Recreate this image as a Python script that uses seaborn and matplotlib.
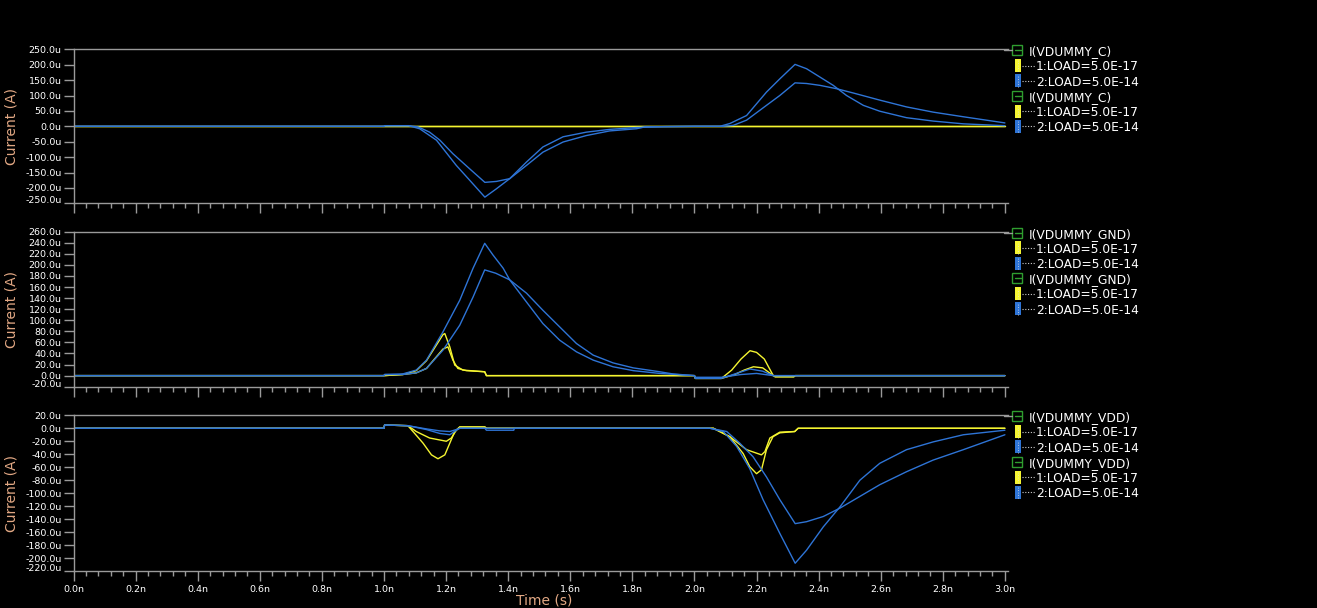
import numpy as np
import matplotlib.pyplot as plt
import seaborn as sns
from matplotlib.patches import Rectangle
from matplotlib.lines import Line2D
from matplotlib.ticker import MultipleLocator, FuncFormatter

sns.set_theme(style="ticks")
plt.rcParams['font.family'] = ['DejaVu Sans']

# ---- data (time in ns, current in uA) ----
# panel 1: I(VDUMMY_C)
c_y1_t = [0.0, 3.0]
c_y1_i = [0, 0]
c_y2_t = [0.0, 3.0]
c_y2_i = [0, 0]
c_b1_t = [0.0, 1.0, 1.002, 1.08, 1.083, 1.115, 1.169, 1.233, 1.276, 1.325, 1.362, 1.405, 1.459,
          1.512, 1.577, 1.652, 1.727, 1.813, 1.9, 2.0, 2.082, 2.114, 2.168, 2.232, 2.275, 2.324,
          2.361, 2.404, 2.447, 2.49, 2.544, 2.597, 2.683, 2.769, 2.866, 3.0]
c_b1_i = [0, 0, 2, 2, 1, -8, -45, -127, -175, -230, -203, -170, -116,
          -67, -34, -19, -10, -4, -1, 0, 0, 9, 35, 111, 154, 201,
          187, 160, 133, 100, 68, 49, 28, 17, 8, 2]
c_b2_t = [0.0, 1.0, 1.002, 1.08, 1.11, 1.147, 1.18, 1.222, 1.276, 1.325, 1.362, 1.405, 1.459,
          1.512, 1.577, 1.652, 1.727, 1.813, 1.84, 2.0, 2.093, 2.125, 2.168, 2.232, 2.275, 2.324,
          2.361, 2.404, 2.458, 2.512, 2.597, 2.683, 2.769, 2.866, 3.0]
c_b2_i = [0, 0, 2, 2, -2, -19, -45, -89, -138, -182, -179, -170, -127,
          -84, -51, -30, -15, -8, -2, 0, 0, 3, 20, 68, 100, 141,
          139, 133, 122, 108, 85, 63, 46, 31, 11]

# panel 2: I(VDUMMY_GND)
g_y1_t = [0.0, 1.0, 1.06, 1.104, 1.137, 1.19, 1.196, 1.212, 1.228, 1.254, 1.3245, 1.33, 2.0,
          2.003, 2.087, 2.12, 2.15, 2.179, 2.2, 2.225, 2.254, 2.26, 2.32, 2.325, 3.0]
g_y1_i = [0, 0, 2, 9, 27, 74, 76, 52, 19, 10, 7, 0, 0,
          -5, -5, 10, 30, 45, 42, 30, 0, -2, -2, 0, 0]
g_y2_t = [0.0, 1.0, 1.06, 1.104, 1.137, 1.19, 1.206, 1.222, 1.238, 1.265, 1.3245, 1.33, 2.0,
          2.003, 2.087, 2.13, 2.16, 2.19, 2.22, 2.254, 2.26, 2.32, 2.325, 3.0]
g_y2_i = [0, 0, 2, 5, 13, 48, 52, 28, 13, 9, 7, 0, 0,
          -5, -5, 2, 10, 16, 14, 0, -2, -2, 0, 0]
g_b1_t = [0.0, 1.0, 1.002, 1.06, 1.104, 1.137, 1.19, 1.244, 1.287, 1.3245, 1.351, 1.384, 1.405,
          1.459, 1.512, 1.566, 1.62, 1.674, 1.738, 1.803, 1.888, 2.0, 2.003, 2.087, 2.13, 2.179,
          2.22, 2.254, 3.0]
g_b1_i = [0, 0, 2, 3, 10, 28, 79, 136, 194, 239, 218, 194, 173,
          133, 94, 64, 43, 28, 16, 9, 4, 0, -5, -5, 3, 12,
          8, 0, 0]
g_b2_t = [0.0, 1.0, 1.002, 1.06, 1.104, 1.137, 1.19, 1.244, 1.287, 1.3245, 1.36, 1.405, 1.459,
          1.512, 1.566, 1.62, 1.674, 1.738, 1.803, 1.888, 1.931, 2.0, 2.003, 2.087, 2.15, 2.2,
          2.254, 3.0]
g_b2_i = [0, 0, 2, 2, 5, 13, 46, 91, 142, 191, 185, 173, 149,
          118, 88, 58, 37, 23, 14, 7, 3, 0, -3, -3, 2, 4,
          0, 0]

# panel 3: I(VDUMMY_VDD)
v_y1_t = [0.0, 1.0, 1.002, 1.077, 1.099, 1.126, 1.153, 1.174, 1.196, 1.212, 1.228, 1.244, 1.325,
          1.33, 2.0, 2.061, 2.114, 2.157, 2.178, 2.2, 2.216, 2.232, 2.253, 2.275, 2.323, 2.334, 3.0]
v_y1_i = [0, 0, 5, 4, -8, -23, -41, -47, -41, -23, -5, 2, 2,
          0, 0, 0, -13, -39, -59, -70, -64, -33, -13, -7, -5, 0, 0]
v_y2_t = [0.0, 1.0, 1.002, 1.077, 1.104, 1.147, 1.201, 1.217, 1.233, 1.244, 1.325, 1.33, 2.0,
          2.061, 2.114, 2.168, 2.216, 2.227, 2.243, 2.275, 2.323, 2.334, 3.0]
v_y2_i = [0, 0, 5, 4, -5, -15, -20, -15, -3, 2, 2, 0, 0,
          0, -13, -33, -41, -36, -15, -6, -5, 0, 0]
v_b1_t = [0.0, 1.0, 1.002, 1.077, 1.137, 1.18, 1.212, 1.233, 1.244, 1.325, 1.33, 1.418, 1.42,
          2.0, 2.05, 2.093, 2.136, 2.178, 2.221, 2.275, 2.3245, 2.361, 2.415, 2.469, 2.533, 2.597,
          2.683, 2.769, 2.866, 3.0]
v_b1_i = [0, 0, 5, 4, -2, -8, -10, -3, 0, 0, -3, -3, 0,
          0, 0, -5, -28, -62, -110, -162, -208, -188, -152, -121, -80, -54,
          -33, -21, -10, -3]
v_b2_t = [0.0, 1.0, 1.002, 1.077, 1.137, 1.18, 1.212, 1.233, 1.244, 2.0, 2.05, 2.104, 2.146,
          2.189, 2.232, 2.275, 2.3245, 2.361, 2.415, 2.469, 2.533, 2.597, 2.683, 2.769, 2.866, 3.0]
v_b2_i = [0, 0, 5, 4, -1, -4, -5, -2, 0, 0, 0, -5, -23,
          -44, -75, -110, -147, -144, -136, -123, -105, -87, -67, -49, -33, -10]

signal_names = ["I(VDUMMY_C)", "I(VDUMMY_GND)", "I(VDUMMY_VDD)"]
load_labels = ["1:LOAD=5.0E-17", "2:LOAD=5.0E-14"]
y_ranges = [(-250, 250, 50), (-20, 260, 20), (-220, 20, 20)]

# ---- style ----
YELLOW = '#f5f531'
BLUE = '#2e74d6'
GREY = '#9a9a9a'
SALMON = '#e2a884'
GREEN = '#2f9e2f'
W, H = 1317, 608

traces = [
    [(c_y1_t, c_y1_i, YELLOW), (c_y2_t, c_y2_i, YELLOW), (c_b1_t, c_b1_i, BLUE), (c_b2_t, c_b2_i, BLUE)],
    [(g_y1_t, g_y1_i, YELLOW), (g_y2_t, g_y2_i, YELLOW), (g_b1_t, g_b1_i, BLUE), (g_b2_t, g_b2_i, BLUE)],
    [(v_y1_t, v_y1_i, YELLOW), (v_y2_t, v_y2_i, YELLOW), (v_b1_t, v_b1_i, BLUE), (v_b2_t, v_b2_i, BLUE)],
]
# panel top/bottom in pixels
panel_px = [(49.3, 203.3), (231.7, 386.7), (415.3, 571.0)]
x_left, x_right = 73.5, 1008

fig = plt.figure(figsize=(W / 100, H / 100), dpi=100, facecolor='black')


def draw_legend(top, name):
    for k in range(6):
        y = 1 - (top + 1 + 15.2 * k) / H
        if k % 3 == 0:
            if k == 0:
                fig.add_artist(Line2D([1004 / W, 1012.5 / W], [y, y], color=GREY, lw=1,
                                      transform=fig.transFigure))
            fig.add_artist(Rectangle((1012.5 / W, y - 5 / H), 10 / W, 10 / H, fill=False,
                                     edgecolor=GREEN, lw=1, transform=fig.transFigure))
            fig.add_artist(Line2D([1014.5 / W, 1020.5 / W], [y, y], color=GREEN, lw=1,
                                  transform=fig.transFigure))
            fig.text(1029 / W, y, name, color='white', fontsize=8.8, va='center_baseline')
        else:
            color = YELLOW if k % 3 == 1 else BLUE
            fig.add_artist(Rectangle((1015 / W, y - 6.5 / H), 6 / W, 13 / H, facecolor=color,
                                     edgecolor='none', transform=fig.transFigure))
            fig.add_artist(Line2D([1018 / W, 1018 / W], [y - 6 / H, y + 6 / H], color='#dddddd',
                                  lw=0.6, ls=(0, (1, 2)), transform=fig.transFigure))
            fig.add_artist(Line2D([1022 / W, 1035 / W], [y, y], color='#cccccc', lw=0.8,
                                  ls=(0, (1, 1.5)), transform=fig.transFigure))
            fig.text(1036 / W, y, load_labels[k % 3 - 1], color='white', fontsize=8.8,
                     va='center_baseline')


for n, (top, bot) in enumerate(panel_px):
    ax = fig.add_axes([x_left / W, 1 - bot / H, (x_right - x_left) / W, (bot - top) / H])
    ax.set_facecolor('black')
    for t, i, c in traces[n]:
        sns.lineplot(x=t, y=i, ax=ax, color=c, linewidth=1.0, estimator=None, sort=False)

    lo, hi, step = y_ranges[n]
    ax.set_xlim(0, 3.01)
    ax.set_ylim(lo, hi)
    ax.set_yticks(np.arange(lo, hi + 1, step))
    ax.yaxis.set_major_formatter(FuncFormatter(lambda v, p: f"{v:.1f}u"))
    ax.xaxis.set_major_locator(MultipleLocator(0.2))
    ax.xaxis.set_minor_locator(MultipleLocator(0.04))
    ax.xaxis.set_major_formatter(FuncFormatter(lambda v, p: f"{v:.1f}n"))

    for side in ['left', 'top', 'bottom']:
        ax.spines[side].set_color(GREY)
        ax.spines[side].set_linewidth(1)
    ax.spines['right'].set_visible(False)

    ax.tick_params(axis='both', which='major', direction='out', length=7, width=1, color=GREY,
                   labelcolor='white', labelsize=6.8, pad=1.5)
    ax.tick_params(axis='x', which='minor', direction='out', length=3.5, width=1, color=GREY)
    ax.tick_params(axis='x', labelbottom=(n == 2), pad=3)
    ax.set_xlabel('')
    ax.set_ylabel('')

    # lowest tick label sits above the axis line
    ax.yaxis.get_major_ticks()[0].label1.set_va('baseline')

    fig.text(12 / W, 1 - (top + bot) / 2 / H, 'Current (A)', color=SALMON, fontsize=10,
             rotation=90, ha='center', va='center')
    draw_legend(top, signal_names[n])

fig.text(544 / W, 1 - 600 / H, 'Time (s)', color=SALMON, fontsize=10, ha='center', va='center')

plt.savefig('out.png', dpi=100, facecolor='black')
